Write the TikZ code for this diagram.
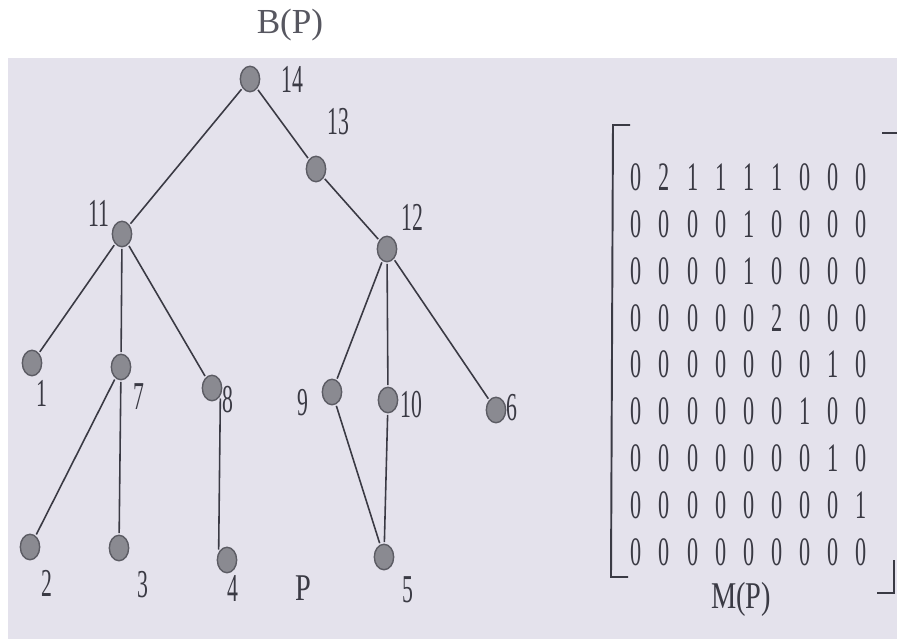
\documentclass[tikz,border=0pt]{standalone}
\usepackage{graphicx}
\usepackage{fontspec}
\setmainfont{Liberation Serif}
\newfontfamily\narrowdigits[FakeStretch=0.55]{Liberation Serif}
\newfontfamily\narrowcaps[FakeStretch=0.75]{Liberation Serif}
\usepackage{tikz}
\usetikzlibrary{shapes.geometric, matrix}
\definecolor{paper}{RGB}{228,226,236}
\definecolor{ink}{RGB}{58,58,68}
\definecolor{vtxfill}{RGB}{138,138,145}
\definecolor{vtxline}{RGB}{92,92,100}
\tikzset{>=latex}
\tikzset{
  vtx/.style = {ellipse, draw = vtxline, fill = vtxfill, line width = 0.8pt, minimum width = 11pt, minimum height = 14.5pt, inner sep = 0pt, outer sep = 1.2pt},
  lbl/.style = {text = ink, inner sep = 0pt, font = \narrowdigits\fontsize{22.5pt}{26pt}\selectfont},
  caplbl/.style = {text = ink, inner sep = 0pt, font = \narrowcaps\fontsize{21.5pt}{25pt}\selectfont},
  link/.style = {draw = ink, line width = 0.9pt},
  mcell/.style = {text = ink, inner sep = 0pt, minimum width = 16pt, minimum height = 26.6pt, font = \narrowdigits\fontsize{23pt}{26pt}\selectfont}
}

\begin{document}
\begin{tikzpicture}[x = 0.02cm, y = -0.02cm]
\useasboundingbox (0,0) rectangle (897,639);
\fill[paper] (8,58) rectangle (897,639);
\node[text = ink!85, inner sep = 0pt, font = \fontsize{20pt}{24pt}\selectfont] (title) at (290,25) {B(P)};

% the tree B(P)
\node[vtx] (n14) at (250,79) {};
\node[vtx] (n13) at (316,169) {};
\node[vtx] (n11) at (122,234) {};
\node[vtx] (n12) at (387,249) {};
\node[vtx] (n1) at (32,363) {};
\node[vtx] (n7) at (121,367) {};
\node[vtx] (n8) at (212,388) {};
\node[vtx] (n9) at (332,392) {};
\node[vtx] (n10) at (388,400) {};
\node[vtx] (n6) at (496,410) {};
\node[vtx] (n2) at (30,547) {};
\node[vtx] (n3) at (119,548) {};
\node[vtx] (n4) at (227,560) {};
\node[vtx] (n5) at (384,557) {};

\node[lbl] (l14) at (292,79) {14};
\node[lbl] (l13) at (338,122) {13};
\node[lbl] (l11) at (99,213) {11};
\node[lbl] (l12) at (412,217) {12};
\node[lbl] (l1) at (42,393) {1};
\node[lbl] (l7) at (139,397) {7};
\node[lbl] (l8) at (228,400) {8};
\node[lbl] (l9) at (303,403) {9};
\node[lbl] (l10) at (411,405) {10};
\node[lbl] (l6) at (512,408) {6};
\node[lbl] (l2) at (47,583) {2};
\node[lbl] (l3) at (143,585) {3};
\node[lbl] (l4) at (233,588) {4};
\node[lbl] (l5) at (408,590) {5};
\node[caplbl] (lp) at (303,588) {P};

\draw[link] (n14) -- (n11);
\draw[link] (n14) -- (n13);
\draw[link] (n13) -- (n12);
\draw[link] (n11) -- (n1);
\draw[link] (n11) -- (n7);
\draw[link] (n11) -- (n8);
\draw[link] (n7) -- (n2);
\draw[link] (n7) -- (n3);
\draw[link] (n8.south east) -- (n4.north west);
\draw[link] (n12) -- (n9);
\draw[link] (n12) -- (n10);
\draw[link] (n12) -- (n6);
\draw[link] (n9) -- (n5);
\draw[link] (n10) -- (n5);

% the matrix M(P)
\matrix (mp) [matrix of nodes, nodes = {mcell}, column sep = 0pt, row sep = 0pt] at (748.8,364.6) {
0 & 2 & 1 & 1 & 1 & 1 & 0 & 0 & 0 \\
0 & 0 & 0 & 0 & 1 & 0 & 0 & 0 & 0 \\
0 & 0 & 0 & 0 & 1 & 0 & 0 & 0 & 0 \\
0 & 0 & 0 & 0 & 0 & 2 & 0 & 0 & 0 \\
0 & 0 & 0 & 0 & 0 & 0 & 0 & 1 & 0 \\
0 & 0 & 0 & 0 & 0 & 0 & 1 & 0 & 0 \\
0 & 0 & 0 & 0 & 0 & 0 & 0 & 1 & 0 \\
0 & 0 & 0 & 0 & 0 & 0 & 0 & 0 & 1 \\
0 & 0 & 0 & 0 & 0 & 0 & 0 & 0 & 0 \\
};
\draw[ink, line width = 1.1pt] (630,125) -- (613,125) -- (611,577) -- (628,577);
\draw[ink, line width = 1.1pt] (882,133) -- (897,133);
\draw[ink, line width = 1.1pt] (894,560) -- (894,593) -- (877,593);
\node[caplbl] (mlabel) at (741,599) {M(P)};
\end{tikzpicture}
\end{document}
